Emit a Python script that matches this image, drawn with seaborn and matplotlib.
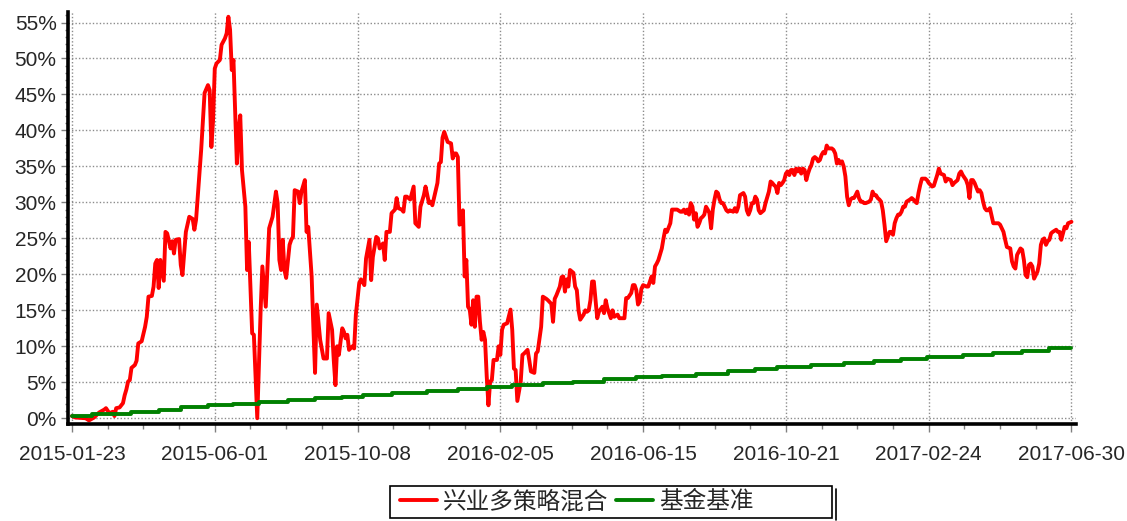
import matplotlib
matplotlib.use("Agg")
import matplotlib.pyplot as plt
from matplotlib.ticker import FixedLocator, MultipleLocator, FuncFormatter
from matplotlib.patches import Rectangle
from matplotlib.lines import Line2D
import numpy as np
import pandas as pd
import seaborn as sns

# x axis is the trading-day index, labels are the dates at every 84th day
TICK_DAYS = [0, 84, 168, 252, 336, 420, 504, 588]
TICK_LABELS = ['2015-01-23', '2015-06-01', '2015-10-08', '2016-02-05',
               '2016-06-15', '2016-10-21', '2017-02-24', '2017-06-30']

FUND_NAME = '兴业多策略混合'
BENCH_NAME = '基金基准'

# fund cumulative return (%)
fund_day = [
    0, 2, 8, 10, 13, 16, 19, 20, 22, 24,
    25, 26, 28, 30, 31, 32, 33, 34, 35, 37,
    38, 39, 41, 43, 44, 45, 47, 48, 49, 50,
    51, 52, 54, 55, 56, 58, 59, 60, 61, 63,
    64, 65, 67, 69, 71,
    72, 73, 75, 76, 78, 80, 81, 82, 83, 84,
    85, 87, 88, 90, 91, 92, 93, 94, 95, 97,
    98, 99, 100, 102, 103, 104, 106, 107, 109, 111,
    112, 114, 116, 118, 120, 121, 122, 123, 124, 125,
    126, 128, 129, 130, 131, 133, 134, 135, 137, 138,
    139, 141, 142, 143,
    144, 146, 148, 150, 151, 153, 154, 155, 156, 157,
    159, 160, 161, 162, 163, 165, 166, 167, 169, 170,
    172, 173, 175, 176, 177, 179, 180, 181, 183, 184,
    185, 187, 188, 190, 191, 192, 194, 195, 196, 197,
    199, 201, 202, 204, 205, 207, 208, 210, 211, 212,
    214, 215, 216, 217, 218,
    219, 220, 221, 223, 224, 225, 226, 227, 228, 229,
    230, 231, 232, 233, 234, 235, 236, 237, 238, 239,
    240, 241, 242, 243, 244, 245, 246, 247, 248, 250,
    251, 252, 253, 254, 256, 258, 259, 260, 261, 262,
    264, 265, 266, 268, 269, 270, 272, 273, 274, 276,
    277, 279, 280, 282, 283, 284, 285, 287, 288, 289,
    290, 291, 292, 293, 295, 296, 297, 298, 299, 301,
    302, 303, 304, 305, 306, 307, 308, 309, 310, 312,
    313, 314, 315, 316, 317, 318, 319, 321, 322, 325,
    326, 327, 329, 330, 331, 332, 333, 334, 335, 336,
    338, 339, 341, 342, 343, 344, 345, 347, 348, 349,
    350, 352, 353, 355, 356, 358, 359, 360, 361, 362,
    363, 364,
    365, 366, 367, 368, 369, 370, 371, 372, 373, 374,
    375, 376, 377, 378, 379, 380, 381, 382, 383, 385,
    386, 387, 389, 390, 391, 392, 393, 395, 396, 397,
    398, 399, 400, 401, 402, 403, 404, 405, 407, 408,
    410, 411, 412, 413, 414, 415, 416, 417, 418, 419,
    420, 421, 422, 423, 424, 425, 426, 427, 428, 429,
    430, 431, 432, 433, 434, 435, 436, 437,
    438, 439, 440, 441, 442, 443, 444, 445, 446, 447,
    448, 449, 450, 451, 452, 453, 454, 455, 456, 457,
    458, 459, 460, 461, 462, 463, 464, 465, 466, 467,
    469, 470, 471, 472, 473, 474, 475, 476, 477, 478,
    479, 481, 482, 483, 484, 485, 486, 487, 488, 489,
    490, 491, 493, 494, 495, 496, 497, 498, 499, 500,
    502, 503, 504, 506, 507, 509, 510,
    511, 513, 514, 515, 517, 518, 519, 521, 522, 523,
    524, 526, 527, 528, 529, 530, 531, 533, 534, 535,
    536, 537, 538, 539, 540, 542, 543, 545, 546, 548,
    549, 550, 552, 553, 554, 555, 556, 558, 559, 560,
    561, 562, 563, 564, 565, 566, 568, 569, 570, 571,
    572, 573, 574, 575, 576, 577, 579, 580, 581, 582,
    583, 584, 585, 586, 588,
]
fund_ret = [
    0.3, 0.1, 0.0, -0.3, 0.1, 0.8, 1.2, 1.4, 0.7, 0.9,
    0.3, 1.4, 1.5, 2.1, 3.2, 4.0, 5.1, 5.3, 7.0, 7.4,
    8.0, 10.4, 10.7, 12.7, 14.1, 16.9, 17.0, 18.3, 21.5, 22.0,
    18.1, 22.0, 19.1, 25.9, 25.7, 23.6, 24.6, 22.9, 24.8, 24.9,
    21.3, 19.9, 25.9, 28.0, 27.7,
    26.2, 27.6, 34.0, 37.3, 45.2, 46.3, 45.6, 37.7, 41.4, 48.6,
    49.3, 49.8, 51.9, 52.8, 53.5, 55.8, 54.0, 48.4, 49.8, 35.4,
    40.1, 42.1, 34.5, 29.4, 20.6, 24.5, 11.8, 11.6, 0.0, 15.1,
    21.1, 15.5, 26.4, 28.0, 31.5, 29.9, 22.0, 20.6, 24.8, 20.6,
    19.5, 24.1, 24.8, 25.2, 31.7, 31.5, 29.9, 31.5, 33.1, 25.9,
    26.6, 19.7, 12.7, 6.3,
    15.8, 10.9, 8.3, 8.3, 14.6, 12.3, 8.1, 4.6, 10.0, 8.8,
    12.5, 12.0, 11.1, 11.6, 9.5, 10.0, 9.7, 14.4, 18.8, 19.3,
    18.5, 22.2, 24.8, 19.2, 22.4, 25.2, 25.0, 23.6, 24.3, 22.0,
    25.9, 25.9, 28.5, 29.0, 30.6, 29.2, 29.0, 28.7, 30.8, 30.8,
    30.4, 32.2, 27.1, 26.6, 29.4, 31.0, 32.2, 29.9, 30.1, 29.6,
    31.7, 32.7, 35.4, 35.6, 39.0,
    39.8, 39.1, 38.4, 38.2, 36.1, 36.8, 36.8, 36.3, 26.9, 27.1,
    28.9, 19.7, 22.0, 15.5, 15.1, 13.0, 16.4, 12.7, 16.9, 16.9,
    13.4, 10.9, 12.0, 10.9, 5.8, 1.8, 5.1, 5.3, 8.1, 8.1,
    10.0, 8.8, 12.3, 13.0, 13.2, 15.1, 12.3, 6.9, 6.7, 2.4,
    5.1, 8.8, 9.0, 9.5, 8.1, 6.5, 6.3, 9.0, 9.3, 12.7,
    16.9, 16.6, 16.4, 15.9, 13.4, 16.6, 17.1, 18.3, 19.6, 19.7,
    17.6, 19.3, 18.3, 20.6, 20.2, 18.3, 17.8, 15.0, 13.7, 14.4,
    15.0, 14.8, 15.0, 16.4, 19.0, 19.0, 16.4, 13.9, 14.8, 15.5,
    14.6, 16.4, 15.3, 14.6, 13.9, 15.0, 14.1, 14.4, 13.9, 13.9,
    16.7, 16.7, 17.4, 18.5, 18.5, 17.8, 15.8, 16.2, 18.0, 18.5,
    18.3, 18.3, 19.7, 18.8, 21.1, 21.5, 22.0, 23.6, 25.0, 26.2,
    25.9, 27.1, 29.0, 29.0, 29.0, 28.7, 28.7, 29.0, 28.5, 29.0,
    28.3, 29.9,
    29.4, 27.6, 28.5, 26.6, 27.1, 27.8, 28.0, 28.3, 29.4, 29.0,
    28.5, 26.4, 29.0, 30.4, 31.5, 31.3, 30.4, 29.9, 29.9, 28.9,
    28.7, 28.9, 28.7, 29.2, 28.7, 29.4, 31.0, 31.3, 30.8, 28.9,
    28.3, 28.9, 29.9, 29.9, 30.8, 30.4, 28.9, 28.5, 28.9, 29.9,
    31.5, 32.9, 32.7, 32.4, 32.2, 31.3, 32.7, 32.4, 32.7, 33.1,
    34.0, 34.3, 33.8, 34.5, 34.5, 33.8, 34.7, 34.3, 34.7, 34.0,
    34.7, 34.5, 33.1, 34.0, 34.7, 35.2, 36.1, 36.3,
    36.1, 35.7, 35.9, 36.6, 37.0, 36.8, 37.9, 37.5, 37.5, 37.5,
    37.3, 36.8, 35.4, 35.9, 35.4, 35.7, 35.0, 33.6, 30.8, 29.6,
    30.4, 30.6, 30.6, 31.0, 31.5, 30.6, 30.1, 30.1, 29.9, 29.9,
    30.1, 30.4, 31.5, 31.0, 31.0, 30.6, 30.4, 30.1, 28.9, 26.9,
    24.6, 25.9, 25.9, 25.5, 27.1, 27.8, 28.3, 28.3, 28.7, 29.4,
    29.4, 30.1, 30.4, 30.6, 30.4, 30.1, 29.9, 31.3, 32.4, 33.3,
    33.3, 33.1, 32.7, 32.2, 32.3, 33.8, 34.7,
    34.0, 33.8, 32.9, 33.3, 33.1, 32.4, 32.7, 33.1, 34.0, 34.3,
    33.8, 33.1, 32.4, 30.6, 33.1, 33.1, 32.7, 31.5, 31.7, 31.3,
    30.1, 29.2, 28.9, 28.9, 29.2, 27.1, 27.1, 27.1, 26.9, 25.9,
    24.8, 23.8, 23.6, 21.8, 21.1, 20.8, 22.7, 23.6, 23.4, 22.0,
    19.9, 19.6, 21.3, 21.5, 21.1, 19.4, 20.4, 21.5, 24.1, 24.8,
    25.0, 24.1, 24.6, 24.8, 25.7, 25.9, 26.2, 25.9, 25.9, 24.8,
    25.7, 26.6, 26.4, 27.1, 27.3,
]

# benchmark (%): a staircase, level holds until the next step day
bench_day = [0, 12, 35, 51, 64, 80, 95, 110, 127, 143,
             159, 171, 188, 209, 227, 244, 259, 277, 295, 313,
             332, 347, 367, 386, 402, 415, 435, 454, 472, 488,
             503, 524, 542, 559, 575, 588]
bench_ret = [0.3, 0.6, 0.9, 1.2, 1.5, 1.8, 2.0, 2.3, 2.6, 2.8,
             3.0, 3.2, 3.5, 3.8, 4.1, 4.4, 4.6, 4.9, 5.1, 5.4,
             5.7, 5.9, 6.2, 6.5, 6.8, 7.1, 7.4, 7.7, 8.0, 8.2,
             8.5, 8.8, 9.1, 9.4, 9.7, 9.7]

assert len(fund_day) == len(fund_ret)
assert len(bench_day) == len(bench_ret)

fund_df = pd.DataFrame({'day': fund_day, 'ret': fund_ret})
bench_df = pd.DataFrame({'day': bench_day, 'ret': bench_ret})

sns.set_style("white")
plt.rcParams['font.family'] = ['Liberation Sans', 'Noto Sans CJK SC', 'DejaVu Sans']

fig = plt.figure(figsize=(11.27, 5.21), dpi=100)
ax = fig.add_axes([0.0601, 0.1862, 0.8944, 0.7913])

sns.lineplot(data=fund_df, x='day', y='ret', ax=ax, color='#ff0000',
             linewidth=2.8, estimator=None, label=FUND_NAME)
sns.lineplot(data=bench_df, x='day', y='ret', ax=ax, color='#008000',
             linewidth=2.8, estimator=None, drawstyle='steps-post',
             label=BENCH_NAME)

ax.set_xlim(-2.5, 590.5)
ax.set_ylim(-0.8, 56.5)
ax.set_xlabel('')
ax.set_ylabel('')

ax.xaxis.set_major_locator(FixedLocator(TICK_DAYS))
ax.set_xticklabels(TICK_LABELS)
ax.xaxis.set_minor_locator(MultipleLocator(21))
ax.yaxis.set_major_locator(FixedLocator(list(range(0, 56, 5))))
ax.yaxis.set_minor_locator(MultipleLocator(1))
ax.yaxis.set_major_formatter(FuncFormatter(lambda v, p: f'{v:.0f}%'))

ax.tick_params(axis='x', which='major', direction='out', length=6, width=1,
               color='#808080', labelsize=15, pad=9, bottom=True)
ax.tick_params(axis='x', which='minor', direction='out', length=3.5, width=1,
               color='#808080', bottom=True)
ax.tick_params(axis='y', which='major', direction='out', length=5, width=1,
               color='#808080', labelsize=15, pad=3, left=True)
ax.tick_params(axis='y', which='minor', direction='out', length=2.5, width=1,
               color='#808080', left=True)

ax.grid(True, which='major', color='#8c8c8c', linestyle=(0, (1, 1.5)),
        linewidth=1.0)
ax.set_axisbelow(True)

for side in ['top', 'right']:
    ax.spines[side].set_visible(False)
for side in ['left', 'bottom']:
    ax.spines[side].set_color('black')
    ax.spines[side].set_linewidth(2.6)

ax.get_legend().remove()
handles = [Line2D([], [], color='#ff0000', linewidth=2.8),
           Line2D([], [], color='#008000', linewidth=2.8)]
fig.legend(handles, [FUND_NAME, BENCH_NAME], loc='center left',
           bbox_to_anchor=(400 / 1127, 1 - 502 / 521), ncol=2, frameon=False,
           prop={'family': ['Noto Sans CJK SC', 'DejaVu Sans'], 'size': 17},
           handlelength=1.55, handletextpad=0.25, columnspacing=0.35,
           borderpad=0, borderaxespad=0)

# legend frame with the doubled right edge
fig.patches.append(Rectangle((390 / 1127, 1 - 518 / 521), 442 / 1127, 32 / 521,
                             transform=fig.transFigure, fill=False,
                             edgecolor='black', linewidth=1.2))
fig.lines.append(Line2D([836 / 1127, 836 / 1127], [1 - 520 / 521, 1 - 489 / 521],
                        transform=fig.transFigure, color='black', linewidth=1.2))

fig.savefig('out.png', dpi=100)
